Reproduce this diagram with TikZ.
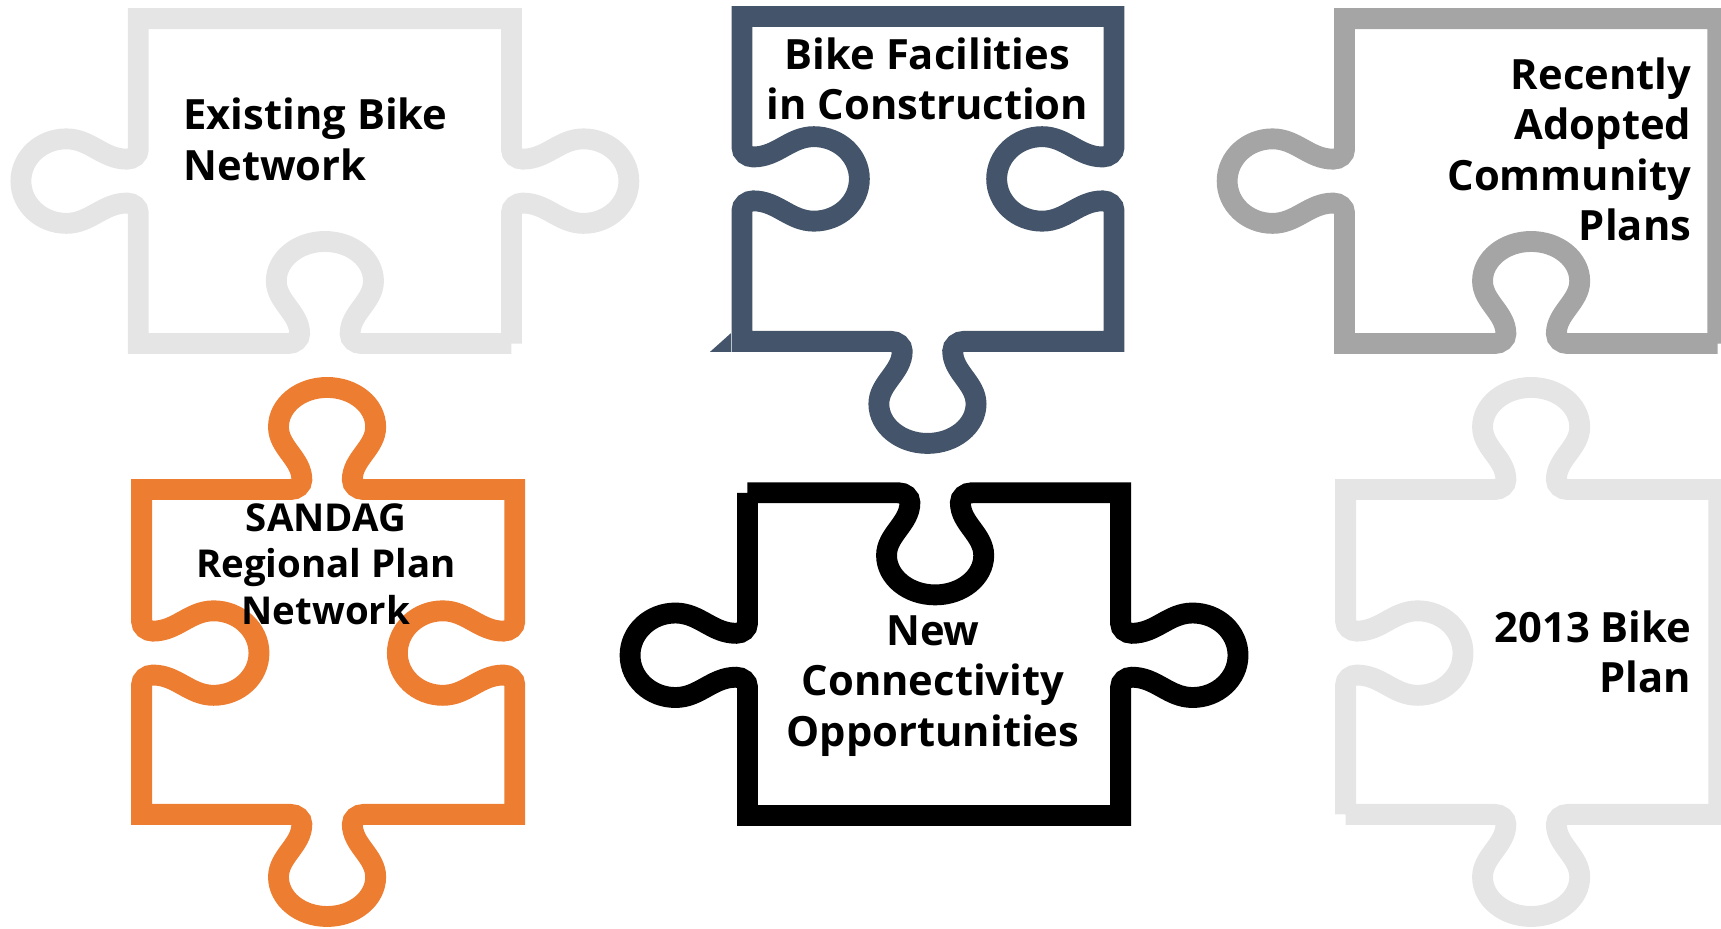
\documentclass[tikz,border=0pt]{standalone}
\usepackage{fontspec}
\setmainfont{Open Sans}
\usepackage{xcolor}
\usepackage{tikz}
\usetikzlibrary{positioning, calc}
\definecolor{puzzlelight}{HTML}{E5E5E5}
\definecolor{puzzlegrey}{HTML}{A5A5A5}
\definecolor{puzzleslate}{HTML}{44546A}
\definecolor{puzzleorange}{HTML}{ED7D31}
\tikzset{
    piece/.style = {line width=19pt},
    light_piece/.style = {piece, draw=puzzlelight},
    grey_piece/.style = {piece, draw=puzzlegrey},
    slate_piece/.style = {piece, draw=puzzleslate},
    orange_piece/.style = {piece, draw=puzzleorange},
    dark_piece/.style = {piece, draw=black},
    % knob={x}{y}{edge angle}{1 = hole, -1 = tab}
    knob/.style n args = {4}{insert path={
        -- ({#1-33.35*cos(#3)},{#2-29*sin(#3)})
        {[shift={(#1,#2)}, xscale=1.15, rotate=#3, yscale=#4]
        .. controls (-24,0) and (-20,4) .. (-20,9)
        .. controls (-20,28) and (-38.5,38) .. (-38.5,57)
        .. controls (-38.5,76.9) and (-21.3,93) .. (0,93)
        .. controls (21.3,93) and (38.5,76.9) .. (38.5,57)
        .. controls (38.5,38) and (20,28) .. (20,9)
        .. controls (20,4) and (24,0) .. (29,0)}}},
    caption/.style = {font=\fontsize{38}{46}\selectfont\bfseries, inner sep=0pt, text=black},
}

\begin{document}
\begin{tikzpicture}[x=1pt, y=1pt, yscale=-1]
        \useasboundingbox (0,0) rectangle (1568,846);
        % top row
        \draw [light_piece] (466,313) [knob={296}{313}{180}{1}] -- (126,313)
            [knob={126}{165}{270}{-1}] -- (126,17) -- (466,17)
            [knob={466}{165}{90}{-1}] -- (466,313);
        \draw [slate_piece] (676,15) -- (1015,15) [knob={1015}{163}{90}{1}] -- (1015,311)
            [knob={845}{311}{180}{-1}] -- (676,311) [knob={676}{163}{270}{1}] -- cycle;
        \fill [puzzleslate] (666,303.5) -- (647,320.5) -- (666,320.5) -- cycle;
        \draw [grey_piece] (1565,313) [knob={1395}{313}{180}{1}] -- (1225,313)
            [knob={1225}{165}{270}{-1}] -- (1225,17) -- (1565,17) -- (1565,313);
        % bottom row
        \draw [orange_piece] (129,446) [knob={298}{446}{0}{-1}] -- (469,446)
            [knob={469}{595}{90}{1}] -- (469,742) [knob={298}{742}{180}{-1}] -- (129,742)
            [knob={129}{595}{270}{1}] -- cycle;
        \draw [dark_piece] (681,449) [knob={852}{449}{0}{1}] -- (1021,449)
            [knob={1021}{597}{90}{-1}] -- (1021,743) -- (681,743)
            [knob={681}{597}{270}{-1}] -- (681,449);
        \draw [light_piece] (1226,742) [knob={1226}{595}{270}{1}] -- (1226,446)
            [knob={1395}{446}{0}{-1}] -- (1566,446) -- (1566,742)
            [knob={1395}{742}{180}{-1}] -- (1226,742);
        % captions
        \node [caption, align=left, anchor=west] (existing) at (167,127) {Existing Bike\\Network};
        \node [caption, align=center] (construction) at (845,72) {Bike Facilities\\in Construction};
        \node [caption, align=right, anchor=east] (adopted) at (1541,136) {Recently\\Adopted\\Community\\Plans};
        \node [caption, align=center, font=\fontsize{35}{42.5}\selectfont\bfseries] (sandag) at (297,514) {SANDAG\\Regional Plan\\Network};
        \node [caption, align=center] (connectivity) at (850,625) {New\\Connectivity\\Opportunities};
        \node [caption, align=right, anchor=east] (bikeplan) at (1541,594) {2013 Bike\\Plan};
\end{tikzpicture}
\end{document}
